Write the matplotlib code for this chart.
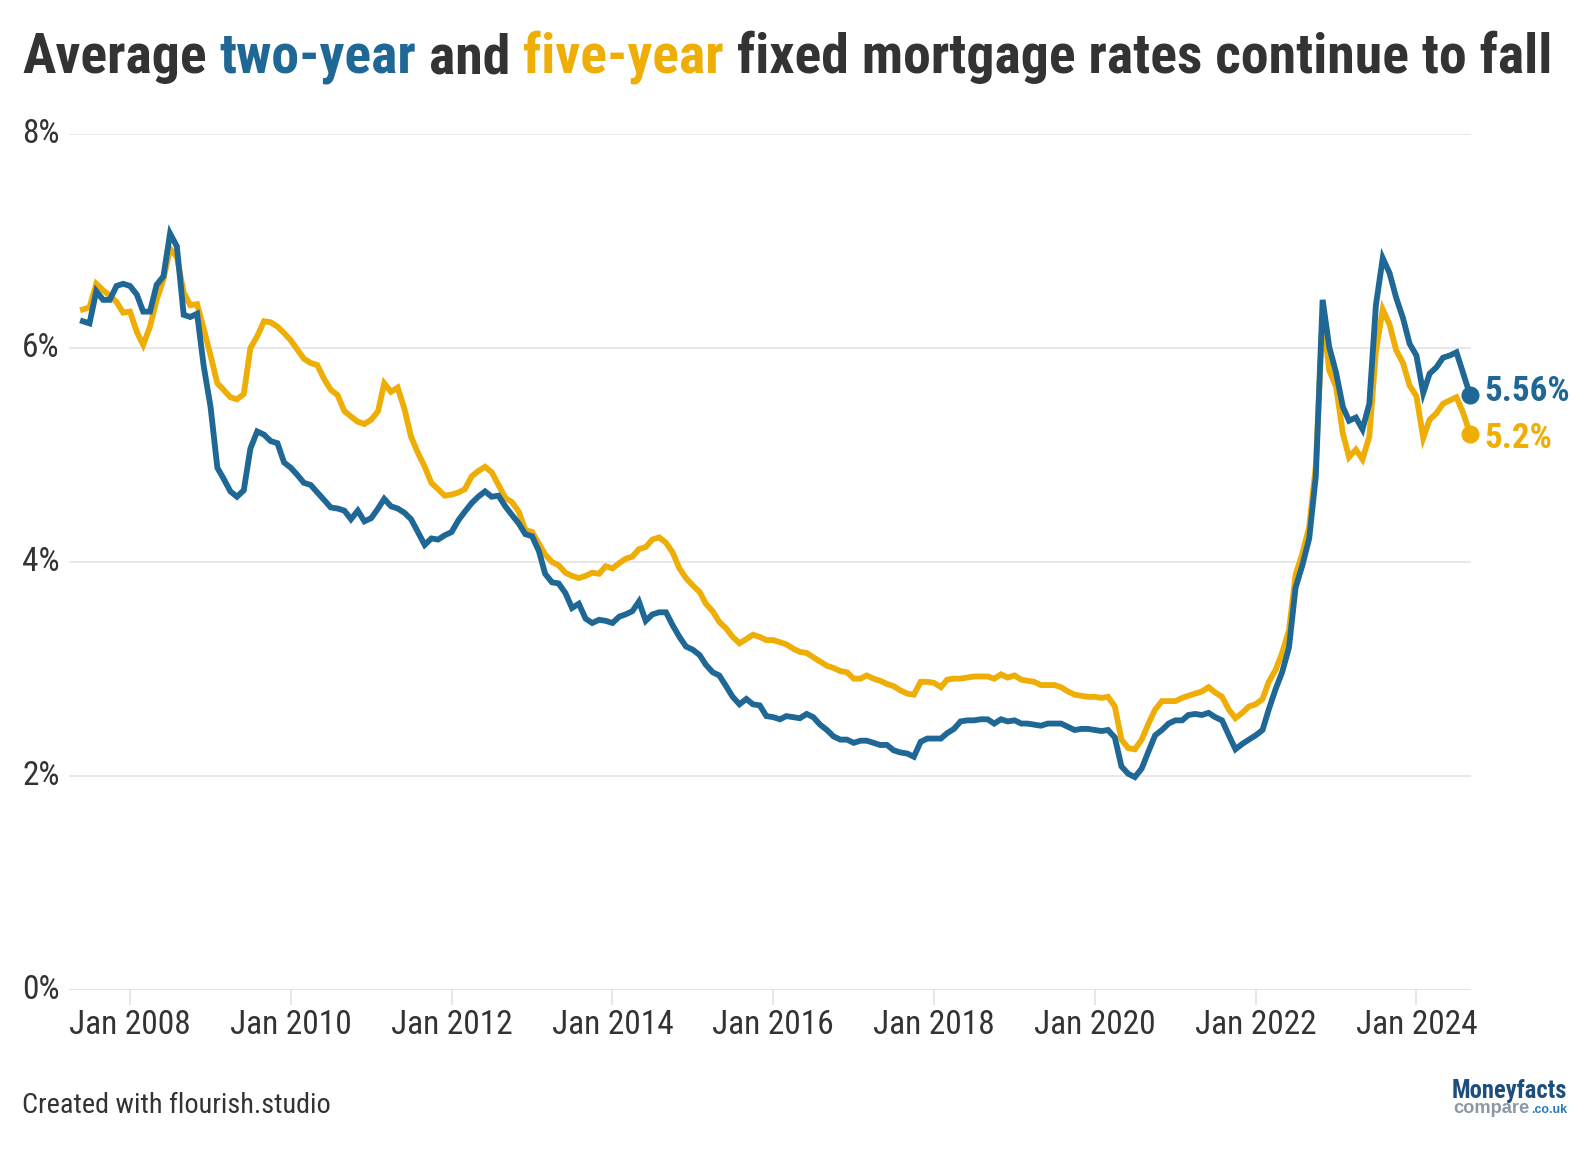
import datetime as dt

import matplotlib
matplotlib.use("Agg")
import matplotlib.pyplot as plt
import matplotlib.transforms as mtransforms
from matplotlib import font_manager as fm
import pandas as pd

# Monthly averages (Moneyfacts), June 2007 to September 2024
two_year = [
    6.25, 6.23, 6.53, 6.45, 6.45, 6.58, 6.60, 6.58, 6.50, 6.34, 6.34, 6.59, 6.67, 7.07, 6.95, 6.31,
    6.29, 6.32, 5.83, 5.45, 4.88, 4.78, 4.66, 4.61, 4.67, 5.06, 5.22, 5.19, 5.13, 5.11, 4.93, 4.88,
    4.81, 4.74, 4.72, 4.65, 4.58, 4.51, 4.50, 4.48, 4.40, 4.48, 4.38, 4.41, 4.50, 4.59, 4.52, 4.50,
    4.46, 4.40, 4.28, 4.16, 4.22, 4.21, 4.25, 4.28, 4.39, 4.47, 4.55, 4.61, 4.66, 4.61, 4.62, 4.52,
    4.44, 4.36, 4.26, 4.24, 4.10, 3.89, 3.81, 3.80, 3.71, 3.57, 3.61, 3.47, 3.43, 3.46, 3.45, 3.43,
    3.49, 3.51, 3.54, 3.63, 3.45, 3.51, 3.53, 3.53, 3.41, 3.30, 3.21, 3.18, 3.13, 3.04, 2.97, 2.94,
    2.84, 2.74, 2.67, 2.72, 2.67, 2.66, 2.56, 2.55, 2.53, 2.56, 2.55, 2.54, 2.58, 2.55, 2.48, 2.43,
    2.37, 2.34, 2.34, 2.31, 2.33, 2.33, 2.31, 2.29, 2.29, 2.24, 2.22, 2.21, 2.18, 2.32, 2.35, 2.35,
    2.35, 2.40, 2.44, 2.51, 2.52, 2.52, 2.53, 2.53, 2.49, 2.53, 2.51, 2.52, 2.49, 2.49, 2.48, 2.47,
    2.49, 2.49, 2.49, 2.46, 2.43, 2.44, 2.44, 2.43, 2.42, 2.43, 2.36, 2.09, 2.02, 1.99, 2.07, 2.23,
    2.38, 2.43, 2.49, 2.52, 2.52, 2.57, 2.58, 2.57, 2.59, 2.55, 2.52, 2.38, 2.25, 2.30, 2.34, 2.38,
    2.43, 2.62, 2.81, 2.97, 3.20, 3.76, 3.97, 4.22, 4.80, 6.45, 6.01, 5.77, 5.45, 5.32, 5.35, 5.24,
    5.48, 6.40, 6.84, 6.70, 6.47, 6.28, 6.04, 5.93, 5.58, 5.76, 5.82, 5.91, 5.93, 5.96, 5.76, 5.56,
]
five_year = [
    6.36, 6.38, 6.60, 6.54, 6.49, 6.43, 6.33, 6.34, 6.15, 6.03, 6.20, 6.45, 6.64, 6.93, 6.85, 6.52,
    6.40, 6.41, 6.18, 5.93, 5.67, 5.61, 5.54, 5.52, 5.57, 6.00, 6.11, 6.25, 6.24, 6.20, 6.14, 6.07,
    5.98, 5.90, 5.86, 5.84, 5.71, 5.61, 5.56, 5.41, 5.36, 5.31, 5.29, 5.33, 5.41, 5.67, 5.59, 5.63,
    5.43, 5.17, 5.02, 4.89, 4.74, 4.68, 4.62, 4.63, 4.65, 4.68, 4.80, 4.85, 4.89, 4.84, 4.72, 4.60,
    4.56, 4.47, 4.30, 4.28, 4.17, 4.07, 4.00, 3.97, 3.90, 3.87, 3.85, 3.87, 3.90, 3.89, 3.96, 3.94,
    3.99, 4.03, 4.05, 4.12, 4.14, 4.21, 4.23, 4.18, 4.09, 3.94, 3.85, 3.78, 3.72, 3.61, 3.54, 3.44,
    3.38, 3.30, 3.24, 3.28, 3.32, 3.30, 3.27, 3.27, 3.25, 3.23, 3.19, 3.16, 3.15, 3.11, 3.07, 3.03,
    3.01, 2.98, 2.97, 2.91, 2.91, 2.94, 2.91, 2.89, 2.86, 2.84, 2.80, 2.77, 2.76, 2.88, 2.88, 2.87,
    2.83, 2.90, 2.91, 2.91, 2.92, 2.93, 2.93, 2.93, 2.91, 2.95, 2.92, 2.94, 2.90, 2.89, 2.88, 2.85,
    2.85, 2.85, 2.83, 2.79, 2.76, 2.75, 2.74, 2.74, 2.73, 2.74, 2.65, 2.34, 2.26, 2.25, 2.34, 2.49,
    2.62, 2.70, 2.70, 2.70, 2.73, 2.75, 2.77, 2.79, 2.83, 2.78, 2.74, 2.62, 2.54, 2.59, 2.65, 2.67,
    2.72, 2.88, 2.99, 3.15, 3.36, 3.88, 4.08, 4.33, 4.90, 6.31, 5.79, 5.64, 5.20, 4.98, 5.05, 4.96,
    5.17, 5.97, 6.36, 6.22, 5.98, 5.86, 5.65, 5.55, 5.16, 5.33, 5.39, 5.48, 5.51, 5.54, 5.39, 5.20,
]
months = pd.date_range("2007-06-01", periods=len(two_year), freq="MS")

tick_years = [2008, 2010, 2012, 2014, 2016, 2018, 2020, 2022, 2024]
y_ticks = [0, 2, 4, 6, 8]

title_parts = [
    ("Average ", "text"),
    ("two-year", "blue"),
    (" and ", "text"),
    ("five-year", "gold"),
    (" fixed mortgage rates continue to fall", "text"),
]

BLUE = "#1f6896"
GOLD = "#eeae06"
TEXT = "#333333"
GRID = "#e8e8e8"
colors = {"text": TEXT, "blue": BLUE, "gold": GOLD}

installed = {f.name for f in fm.fontManager.ttflist}
FONT = next((n for n in ["Roboto Condensed", "Liberation Sans Narrow", "Roboto"] if n in installed),
            "DejaVu Sans")
LOGO_FONT = ["Liberation Sans", "DejaVu Sans"]
plt.rcParams["font.family"] = [FONT, "DejaVu Sans"]

W, H = 1592, 1150
fig = plt.figure(figsize=(W / 100, H / 100), dpi=100)
renderer = fig.canvas.get_renderer()


def text_width(s, size, weight="normal", family=None):
    t = fig.text(0, 0, s, fontsize=size, fontweight=weight)
    if family:
        t.set_family(family)
    w = t.get_window_extent(renderer).width
    t.remove()
    return w


def fit_size(s, target_px, weight="normal", base=20, family=None):
    return base * target_px / text_width(s, base, weight, family)


def advance(s, size, weight):
    # width including trailing spaces
    return text_width(s + "x", size, weight) - text_width("x", size, weight)


# axes placed in pixel terms of the reference
left_px, right_px, top_px, bottom_px = 69, 1471, 134, 990
ax = fig.add_axes([left_px / W, 1 - bottom_px / H, (right_px - left_px) / W, (bottom_px - top_px) / H])

ax.plot(months, two_year, color=BLUE, lw=4.2, solid_joinstyle="miter", clip_on=False, zorder=4)
ax.plot(months, five_year, color=GOLD, lw=4.2, solid_joinstyle="miter", clip_on=False, zorder=3)
ax.plot(months[-1], two_year[-1], "o", ms=12, color=BLUE, clip_on=False, zorder=5)
ax.plot(months[-1], five_year[-1], "o", ms=12, color=GOLD, clip_on=False, zorder=5)

ax.set_xlim(pd.Timestamp("2007-03-30"), pd.Timestamp("2024-09-05"))
ax.set_ylim(0, 8)

for s in ax.spines.values():
    s.set_visible(False)
ax.set_yticks(y_ticks)
ax.set_yticklabels([])
ax.tick_params(axis="y", length=0)
ax.yaxis.grid(True, color=GRID, lw=1.4)
ax.axhline(0, color="#e3e3e3", lw=2.2, zorder=1)
ax.set_axisbelow(True)

tick_size = fit_size("Jan 2008", 122)
ax.set_xticks([dt.date(y, 1, 1) for y in tick_years])
ax.set_xticklabels([f"Jan {y}" for y in tick_years], fontsize=tick_size, color=TEXT)
ax.tick_params(axis="x", length=11, width=1.2, color="#e3e3e3", pad=2.5)

ylab = mtransforms.blended_transform_factory(fig.transFigure, ax.transData)
for v in y_ticks:
    ax.text(22 / W, v, f"{v}%", transform=ylab, ha="left", va="center",
            fontsize=tick_size, color=TEXT)

# end labels
lab_size = fit_size("5.56%", 86, "bold")
ax.annotate(f"{two_year[-1]:g}%", xy=(months[-1], two_year[-1]), xytext=(14, 4),
            textcoords="offset pixels", ha="left", va="center", fontsize=lab_size,
            fontweight="bold", color=BLUE, annotation_clip=False)
ax.annotate(f"{five_year[-1]:g}%", xy=(months[-1], five_year[-1]), xytext=(14, -5),
            textcoords="offset pixels", ha="left", va="center", fontsize=lab_size,
            fontweight="bold", color=GOLD, annotation_clip=False)

# title, coloured word by word
full_title = "".join(p for p, _ in title_parts)
title_size = fit_size(full_title, 1524, "bold")
x = 22
prefix = ""
for part, key in title_parts:
    start = x + (advance(prefix, title_size, "bold") if prefix else 0)
    lead = len(part) - len(part.lstrip())
    if lead:
        start += advance(part[:lead], title_size, "bold")
    fig.text(start / W, 1 - 73 / H, part.strip(), fontsize=title_size, fontweight="bold",
             color=colors[key], ha="left", va="baseline")
    prefix += part

# footer
foot_size = fit_size("Created with flourish.studio", 308)
fig.text(22 / W, 1 - 1113 / H, "Created with flourish.studio", fontsize=foot_size,
         color=TEXT, ha="left", va="baseline")

# Moneyfacts logo as text
logo_size = fit_size("Moneyfacts", 115, "bold")
fig.text(1567 / W, 1 - 1098 / H, "Moneyfacts", fontsize=logo_size, fontweight="bold",
         color="#1d4f7d", ha="right", va="baseline")
cmp_size = fit_size("compare", 76, "bold", family=LOGO_FONT)
couk_size = fit_size(".co.uk", 36, "bold", family=LOGO_FONT)
couk_w = text_width(".co.uk", couk_size, "bold", LOGO_FONT)
fig.text(1567 / W, 1 - 1113 / H, ".co.uk", fontsize=couk_size, fontweight="bold",
         family=LOGO_FONT, color="#2a7ab5", ha="right", va="baseline")
fig.text((1567 - couk_w - 1) / W, 1 - 1113 / H, "compare", fontsize=cmp_size, fontweight="bold",
         family=LOGO_FONT, color="#8a98a6", ha="right", va="baseline")

fig.savefig("out.png", dpi=100, facecolor="white")
